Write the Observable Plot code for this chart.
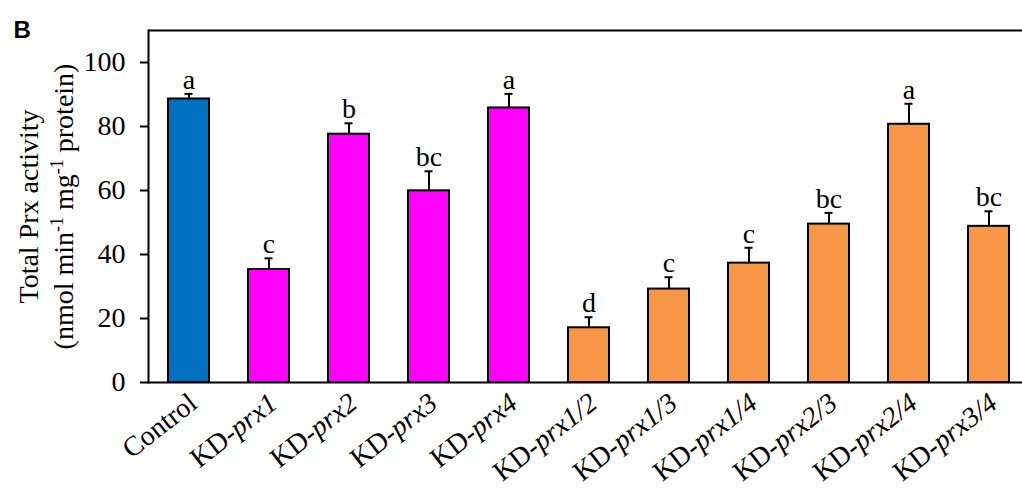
<!DOCTYPE html>
<html><head><meta charset="utf-8">
<script src="https://cdn.jsdelivr.net/npm/d3@7"></script>
<script src="https://cdn.jsdelivr.net/npm/@observablehq/plot@0.6"></script>
<style>body{margin:0;background:#fff} #chart svg{display:block}</style>
</head><body><div id="chart"></div>
<script>
const categories = ["Control","KD-prx1","KD-prx2","KD-prx3","KD-prx4","KD-prx1/2","KD-prx1/3","KD-prx1/4","KD-prx2/3","KD-prx2/4","KD-prx3/4"];
const values = [88.6, 35.3, 77.6, 59.9, 85.8, 17.1, 29.2, 37.3, 49.5, 80.7, 48.8];
const errors = [1.6, 3.5, 3.4, 6.1, 4.4, 3.3, 3.7, 4.8, 3.5, 6.4, 4.7];
const letters = ["a","c","b","bc","a","d","c","c","bc","a","bc"];
const groups = ["Control","Single","Single","Single","Single","Double","Double","Double","Double","Double","Double"];
const groupNames = ["Control","Single","Double"];
const groupColors = ["#0070C0","#FF00FF","#F79646"];
const yTicks = [0,20,40,60,80,100];
const yLabelLine1 = "Total Prx activity";
const yLabelParts = [["(nmol min", false], ["-1", true], [" mg", false], ["-1", true], [" protein)", false]];
const panelLabel = "B";

const data = categories.map((c,i)=>({category:c, value:values[i], top:values[i]+errors[i], letter:letters[i], group:groups[i]}));
const serif = "'Liberation Serif','Times New Roman',serif";
const yLabelLine2 = yLabelParts.map(p=>p[0]).join("");

const chart = Plot.plot({
  width:1022, height:491, marginLeft:148, marginRight:0, marginTop:30, marginBottom:109,
  style:{fontFamily:serif, fontSize:"28px", color:"black", background:"white", overflow:"visible"},
  x:{domain:categories, range:[148,1028], paddingInner:0.4875, paddingOuter:0.24375, label:null},
  y:{domain:[0,110], label:null},
  color:{domain:groupNames, range:groupColors},
  marks:[
    Plot.barY(data,{x:"category", y:"value", fill:"group", stroke:"black", strokeWidth:2}),
    Plot.ruleX(data,{x:"category", y1:"value", y2:"top", stroke:"black", strokeWidth:2}),
    Plot.tickY(data,{x:"category", y:"top", stroke:"black", strokeWidth:2, insetLeft:16.5, insetRight:16.5}),
    Plot.text(data,{x:"category", y:"top", text:"letter", dy:-5, lineAnchor:"bottom", fontSize:28, fill:"black"}),
    Plot.ruleY([0], {stroke:"black", strokeWidth:2}),
    Plot.ruleY([110], {stroke:"black", strokeWidth:2}),
    Plot.frame({anchor:"left", stroke:"black", strokeWidth:2}),
    Plot.axisY({ticks:yTicks, tickSize:8, tickPadding:15, strokeWidth:2, label:null, fontSize:28}),
    Plot.axisX({tickSize:0, tickPadding:0, tickRotate:-38, textAnchor:"end", lineAnchor:"bottom", dx:10, dy:24, label:null, fontSize:28}),
    Plot.text([yLabelLine1], {frameAnchor:"left", rotate:-90, dx:-111, lineAnchor:"bottom", textAnchor:"middle", fontSize:28, fill:"black"}),
    Plot.text([yLabelLine2], {frameAnchor:"left", rotate:-90, dx:-76, lineAnchor:"bottom", textAnchor:"middle", fontSize:28, fill:"black"}),
    Plot.text([panelLabel], {frameAnchor:"top-left", dx:-135, dy:7, lineAnchor:"bottom", textAnchor:"start", fontFamily:"'Liberation Sans',Arial,sans-serif", fontWeight:"bold", fontSize:24, fill:"black"})
  ]
});

const sel = d3.select(chart);
sel.selectAll('g[aria-label="x-axis tick label"] text').each(function(){
  const t = d3.select(this); const s = t.text();
  if (s.startsWith("KD-")) {
    t.text(null);
    t.append("tspan").text("KD-");
    t.append("tspan").attr("font-style","italic").text(s.slice(3));
  }
});
sel.selectAll('text').filter(function(){ return this.textContent === yLabelLine2; }).each(function(){
  const t = d3.select(this); t.text(null);
  let shifted = false;
  yLabelParts.forEach(([s, sup])=>{
    const ts = t.append("tspan").text(s);
    if (sup) { ts.attr("font-size","18px").attr("dy", -10); shifted = true; }
    else if (shifted) { ts.attr("dy", 10); shifted = false; }
  });
});
document.getElementById("chart").appendChild(chart);
</script>
</body></html>
